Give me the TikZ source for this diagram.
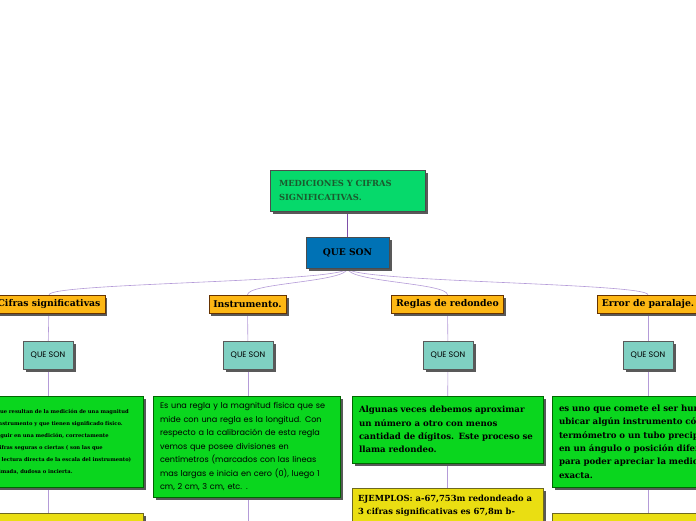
\documentclass[tikz,border=0pt]{standalone}
\usepackage{fontspec}
\setmainfont{DejaVu Serif}
\newfontfamily\comicfont{Poppins}
\usepackage{tikz}
\usetikzlibrary{shadows, backgrounds, positioning}
\definecolor{titlegreen}{HTML}{06D96B}
\definecolor{titletext}{HTML}{1B5A2E}
\definecolor{qsblue}{HTML}{0072B5}
\definecolor{catorange}{HTML}{FDB714}
\definecolor{qsteal}{HTML}{7FD0C2}
\definecolor{descgreen}{HTML}{0AD61E}
\definecolor{ejyellow}{HTML}{EADE12}
\definecolor{linkviolet}{HTML}{B49BD8}
\definecolor{mainviolet}{HTML}{7E4FA8}

\begin{document}
\begin{tikzpicture}[x=1pt, y=-1pt,
    boxshadow/.style={general shadow={fill=black!65, shadow xshift=2.5pt, shadow yshift=-2.5pt}},
    titlebox/.style={rectangle, draw=gray!60!black, fill=titlegreen, text=titletext, boxshadow, inner xsep=9pt, text width=137pt, minimum height=41pt, align=left, font=\bfseries\fontsize{8.4}{14}\selectfont},
    qsbox/.style={rectangle, draw=black!70, fill=qsblue, boxshadow, minimum width=83pt, minimum height=31pt, font=\bfseries\fontsize{9.2}{10}\selectfont},
    catbox/.style={rectangle, draw=orange!40!black, fill=catorange, boxshadow, inner xsep=4.5pt, inner ysep=0pt, minimum height=18pt, font=\bfseries\fontsize{9.3}{10}\selectfont},
    smallqs/.style={rectangle, draw=gray!70!black, fill=qsteal, boxshadow, minimum width=50pt, minimum height=28pt, font=\comicfont\fontsize{8}{9}\selectfont},
    descbox/.style={rectangle, draw=green!40!black, fill=descgreen, boxshadow, anchor=north, align=left, inner xsep=7pt, inner ysep=6pt, font=\bfseries\fontsize{8.6}{13.3}\selectfont},
    ejbox/.style={rectangle, draw=olive!70!black, fill=ejyellow, boxshadow, anchor=north, align=left, inner xsep=6pt, inner ysep=7pt, font=\bfseries\fontsize{8.4}{13.3}\selectfont},
    link/.style={draw=linkviolet, line width=0.6pt},
    mainlink/.style={draw=mainviolet, line width=0.7pt}
]
    \useasboundingbox (0,0) rectangle (696,520);

    % centro
    \node[titlebox] (title) at (347.5,190.5) {MEDICIONES Y CIFRAS\\SIGNIFICATIVAS.};
    \node[qsbox] (queson) at (347.5,252.5) {QUE SON};

    % ramas
    \node[catbox] (cifras) at (49,304) {Cifras significativas};
    \node[catbox] (instr) at (247.5,304) {Instrumento.};
    \node[catbox] (reglas) at (447.5,304) {Reglas de redondeo};
    \node[catbox] (error) at (648,304) {Error de paralaje.};

    \node[smallqs] (qs1) at (48,355) {QUE SON};
    \node[smallqs] (qs2) at (248,355) {QUE SON};
    \node[smallqs] (qs3) at (448,355) {QUE SON};
    \node[smallqs] (qs4) at (648,355) {QUE SON};

    \node[descbox, text width=140pt, inner xsep=6.5pt, minimum height=91pt, font=\bfseries\fontsize{5.2}{12}\selectfont] (dcifras) at (66.5,396)
        {que resultan de la medición de una magnitud\\instrumento y que tienen significado físico.\\nguir en una medición, correctamente\\cifras seguras o ciertas ( son las que\\a lectura directa de la escala del instrumento)\\timada, dudosa o incierta.};
    \node[descbox, text width=173pt, minimum height=101pt, font=\comicfont\fontsize{8.1}{13.5}\selectfont] (dinstr) at (246.5,396)
        {Es una regla y la magnitud física que se\\mide con una regla es la longitud. Con\\respecto a la calibración de esta regla\\vemos que posee divisiones en\\centímetros (marcados con las lineas\\mas largas e inicia en cero (0), luego 1\\cm, 2 cm, 3 cm, etc. .};
    \node[descbox, text width=177pt, minimum height=67pt] (dreglas) at (447.5,396)
        {Algunas veces debemos aproximar\\un número a otro con menos\\cantidad de dígitos.  Este proceso se\\llama redondeo.};
    \node[descbox, text width=178pt, minimum height=91pt] (derror) at (648,396)
        {es uno que comete el ser hum\\ubicar algún instrumento có\\termómetro o un tubo precip\\en un ángulo o posición difer\\para poder apreciar la medic\\exacta.};

    \node[ejbox, minimum width=153pt, minimum height=30pt] (ejcifras) at (66.5,513) {};
    \coordinate (ejinstr) at (248,525);
    \node[ejbox, text width=179pt] (ejreglas) at (447.5,488)
        {EJEMPLOS: a-67,753m redondeado a\\3 cifras significativas es 67,8m b-};
    \node[ejbox, minimum width=192pt, minimum height=30pt] (ejerror) at (648,513) {};

    % conectores
    \begin{scope}[on background layer]
        \fill[white] (0,0) rectangle (696,520);
        \draw[mainlink] (title) -- (queson);
        \draw[link] (queson.south) .. controls +(0,14) and +(0,-12) .. (cifras.north);
        \draw[link] (queson.south) .. controls +(0,14) and +(0,-12) .. (instr.north);
        \draw[link] (queson.south) .. controls +(0,14) and +(0,-12) .. (reglas.north);
        \draw[link] (queson.south) .. controls +(0,14) and +(0,-12) .. (error.north);
        \draw[link] (cifras) -- (qs1);
        \draw[link] (instr) -- (qs2);
        \draw[link] (reglas) -- (qs3);
        \draw[link] (error) -- (qs4);
        \draw[link] (qs1) -- (qs1 |- dcifras.north);
        \draw[link] (qs2) -- (qs2 |- dinstr.north);
        \draw[link] (qs3) -- (dreglas);
        \draw[link] (qs4) -- (derror);
        \draw[link] (qs1 |- dcifras.south) -- (qs1 |- ejcifras.north);
        \draw[link] (qs2 |- dinstr.south) -- (ejinstr);
        \draw[link] (dreglas) -- (ejreglas);
        \draw[link] (derror) -- (ejerror);
    \end{scope}
\end{tikzpicture}
\end{document}
